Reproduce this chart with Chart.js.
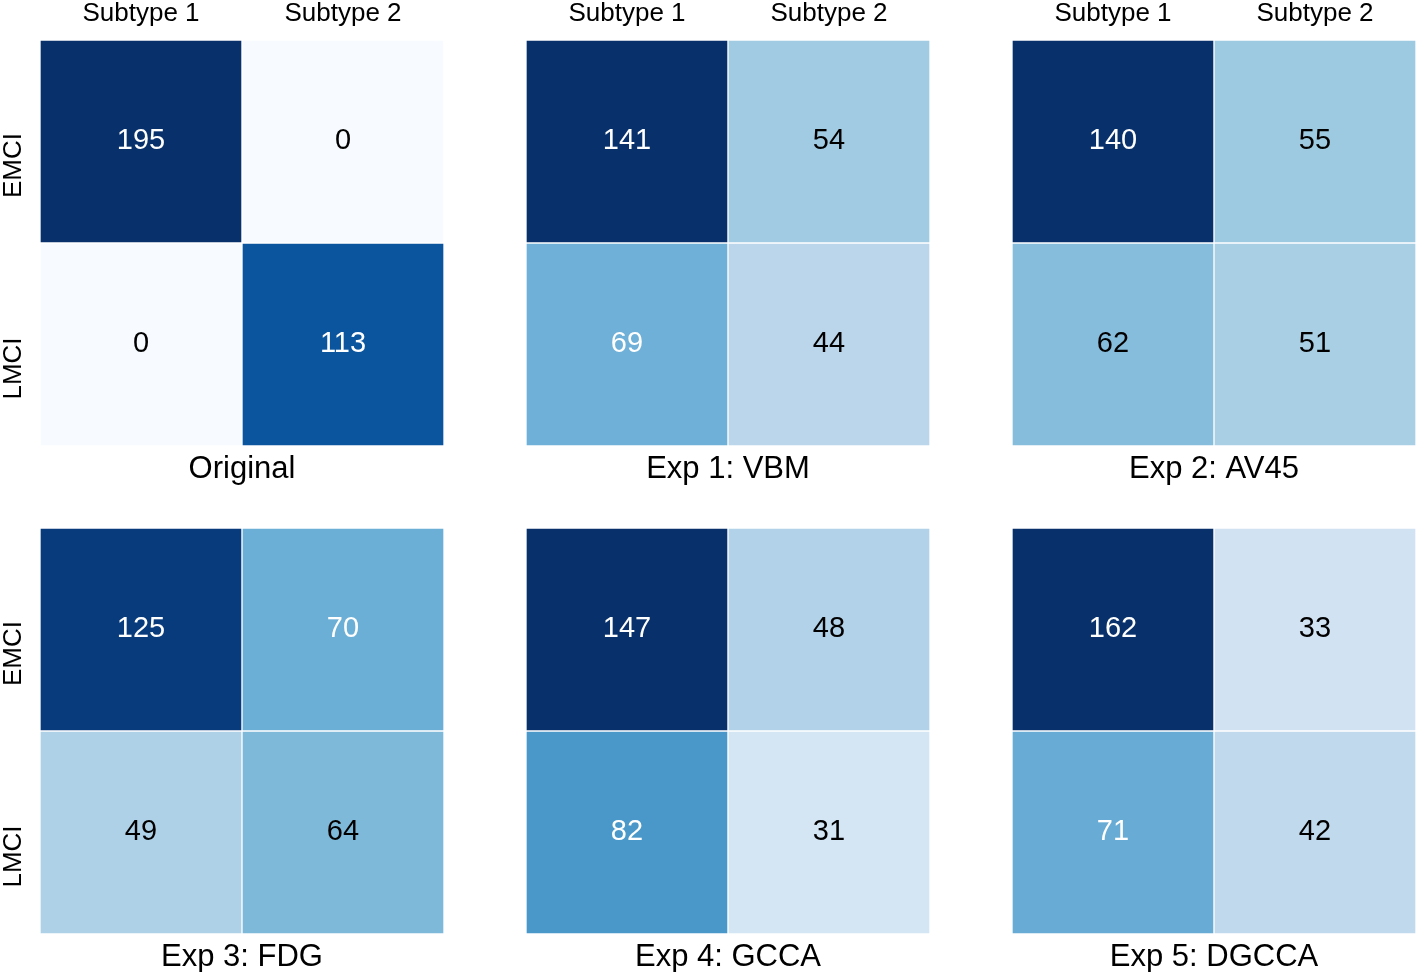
<!DOCTYPE html>
<html>
<head>
<meta charset="utf-8">
<script src="https://cdn.jsdelivr.net/npm/chart.js@4.4.1/dist/chart.umd.min.js"></script>
<style>
  html, body { margin: 0; padding: 0; background: #fff; overflow: hidden; }
  #wrap { position: relative; width: 1424px; height: 972px; }
  #wrap canvas { position: absolute; }
</style>
</head>
<body>
<div id="wrap"></div>
<script>
// counts per panel, rows = EMCI / LMCI, columns = Subtype 1 / Subtype 2
const colLabels = ["Subtype 1", "Subtype 2"];
const rowLabels = ["EMCI", "LMCI"];
const panelTitles = ["Original", "Exp 1: VBM", "Exp 2: AV45", "Exp 3: FDG", "Exp 4: GCCA", "Exp 5: DGCCA"];
const emciCounts = [[195, 0], [141, 54], [140, 55], [125, 70], [147, 48], [162, 33]];
const lmciCounts = [[0, 113], [69, 44], [62, 51], [49, 64], [82, 31], [71, 42]];

// colour scale (matplotlib "Blues"), shared by all panels
const vmin = 10;
const vmax = 130;
const blues = ["#f7fbff", "#deebf7", "#c6dbef", "#9ecae1", "#6baed6", "#4292c6", "#2171b5", "#08519c", "#08306b"];

const FONT = '"Liberation Sans", Arial, sans-serif';
Chart.defaults.font.family = FONT;
Chart.defaults.color = "#000";

function hexRgb(h) {
  return [1, 3, 5].map(i => parseInt(h.slice(i, i + 2), 16));
}

function bluesRgb(v) {
  let t = (v - vmin) / (vmax - vmin);
  t = Math.max(0, Math.min(1, t)) * (blues.length - 1);
  const i = Math.min(Math.floor(t), blues.length - 2);
  const f = t - i;
  const a = hexRgb(blues[i]), b = hexRgb(blues[i + 1]);
  return a.map((x, k) => Math.round(x + (b[k] - x) * f));
}

function cellColor(v) {
  const [r, g, b] = bluesRgb(v);
  return `rgb(${r},${g},${b})`;
}

// same rule as seaborn: dark text on light cells
function textColor(v) {
  const lum = bluesRgb(v).map(c => {
    c = c / 255;
    return c <= 0.03928 ? c / 12.92 : Math.pow((c + 0.055) / 1.055, 2.4);
  });
  const l = 0.2126 * lum[0] + 0.7152 * lum[1] + 0.0722 * lum[2];
  return l > 0.408 ? "#000" : "#fff";
}

const cellText = {
  id: "cellText",
  afterDatasetsDraw(chart) {
    const { ctx } = chart;
    ctx.save();
    ctx.font = "29px " + FONT;
    ctx.textAlign = "center";
    ctx.textBaseline = "middle";
    chart.data.datasets.forEach((ds, r) => {
      chart.getDatasetMeta(r).data.forEach((bar, c) => {
        const v = ds.counts[c];
        ctx.fillStyle = textColor(v);
        ctx.fillText(String(v), bar.x, (bar.y + bar.base) / 2 - 1);
      });
    });
    ctx.restore();
  },
};

const rowText = {
  id: "rowText",
  afterDraw(chart) {
    const { ctx, chartArea } = chart;
    const y = chart.scales.y;
    ctx.save();
    ctx.font = "26px " + FONT;
    ctx.fillStyle = "#000";
    ctx.textAlign = "center";
    ctx.textBaseline = "alphabetic";
    rowLabels.forEach((lab, i) => {
      ctx.save();
      ctx.translate(chartArea.left - 19, y.getPixelForValue(i + 0.5) + 24);
      ctx.rotate(-Math.PI / 2);
      ctx.fillText(lab, 0, 0);
      ctx.restore();
    });
    ctx.restore();
  },
};

const wrap = document.getElementById("wrap");
const panelLeft = [0, 486, 972];
const panelTop = [0, 488];

panelTitles.forEach((title, p) => {
  const col = p % 3;
  const row = Math.floor(p / 3);
  const cv = document.createElement("canvas");
  cv.width = 448;
  cv.height = 490;
  cv.style.left = panelLeft[col] + "px";
  cv.style.top = panelTop[row] + "px";
  wrap.appendChild(cv);

  const counts = [emciCounts[p], lmciCounts[p]];

  new Chart(cv, {
    type: "bar",
    data: {
      labels: colLabels,
      datasets: rowLabels.map((lab, r) => ({
        label: lab,
        counts: counts[r],
        data: colLabels.map(() => [r, r + 1]),
        backgroundColor: counts[r].map(cellColor),
        borderColor: "#fff",
        borderWidth: 1,
        borderSkipped: false,
        grouped: false,
        barPercentage: 1,
        categoryPercentage: 1,
      })),
    },
    options: {
      responsive: false,
      animation: false,
      layout: { padding: { right: 4 } },
      plugins: {
        legend: { display: false },
        tooltip: { enabled: false },
      },
      scales: {
        x: {
          position: "top",
          grid: { display: false },
          border: { display: false },
          ticks: { display: row === 0, font: { size: 26 }, color: "#000", padding: 3 },
          afterFit(s) { s.height = 40; },
        },
        xb: {
          type: "category",
          position: "bottom",
          grid: { display: false },
          border: { display: false },
          ticks: { display: false },
          title: { display: true, text: title, font: { size: 31 }, color: "#000", padding: { top: 0, bottom: 2 } },
          afterFit(s) { s.height = 44; },
        },
        y: {
          min: 0,
          max: rowLabels.length,
          reverse: true,
          grid: { display: false },
          border: { display: false },
          ticks: { display: false },
          afterFit(s) { s.width = 40; },
        },
      },
    },
    plugins: col === 0 ? [cellText, rowText] : [cellText],
  });
});
</script>
</body>
</html>
